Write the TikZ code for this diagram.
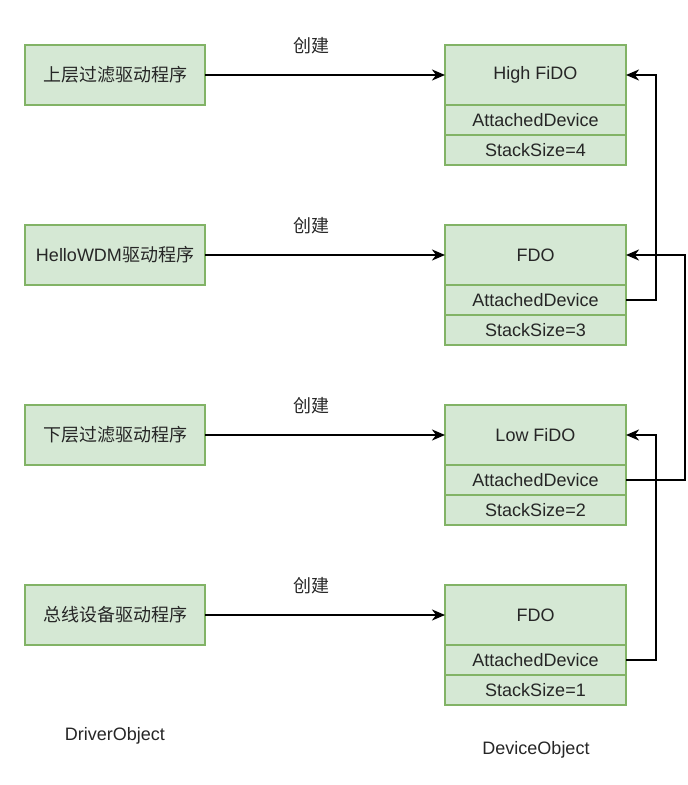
\documentclass[tikz,border=0pt]{standalone}
\usepackage{fontspec}
\setmainfont{Liberation Sans}
\newfontfamily\cjk{Noto Sans CJK SC}
\usetikzlibrary{arrows.meta}
\definecolor{boxfill}{HTML}{D5E8D4}
\definecolor{boxline}{HTML}{82B366}
\begin{document}
\begin{tikzpicture}[x=1pt,y=-1pt,
  txt/.style={font=\fontsize{18}{21}\selectfont, text=black!85},
  box/.style={txt, draw=boxline, fill=boxfill, line width=1.5pt, minimum width=180pt, minimum height=60pt, inner sep=0pt, outer sep=0pt},
  row/.style={box, minimum width=181pt, minimum height=30pt},
  conn/.style={line width=1.8pt, -{Stealth[length=13pt,width=11pt,inset=4pt]}}]
\useasboundingbox (0,0) rectangle (688,785);
% left driver boxes
\node[box, anchor=north west] (L1) at (25,45) {\cjk 上层过滤驱动程序};
\node[box, anchor=north west] (L2) at (25,225) {Hello\-WDM\cjk 驱动程序};
\node[box, anchor=north west] (L3) at (25,405) {\cjk 下层过滤驱动程序};
\node[box, anchor=north west] (L4) at (25,585) {\cjk 总线设备驱动程序};
% right device stacks
\node[box, minimum width=181pt, anchor=north west] (D1) at (445,45) {High FiDO};
\node[row, anchor=north] (A1) at (D1.south) {AttachedDevice};
\node[row, anchor=north] (S1) at (A1.south) {StackSize=4};
\node[box, minimum width=181pt, anchor=north west] (D2) at (445,225) {FDO};
\node[row, anchor=north] (A2) at (D2.south) {AttachedDevice};
\node[row, anchor=north] (S2) at (A2.south) {StackSize=3};
\node[box, minimum width=181pt, anchor=north west] (D3) at (445,405) {Low FiDO};
\node[row, anchor=north] (A3) at (D3.south) {AttachedDevice};
\node[row, anchor=north] (S3) at (A3.south) {StackSize=2};
\node[box, minimum width=181pt, anchor=north west] (D4) at (445,585) {FDO};
\node[row, anchor=north] (A4) at (D4.south) {AttachedDevice};
\node[row, anchor=north] (S4) at (A4.south) {StackSize=1};
% create arrows
\draw[conn] (L1.east) -- (D1.west);
\draw[conn] (L2.east) -- (D2.west);
\draw[conn] (L3.east) -- (D3.west);
\draw[conn] (L4.east) -- (D4.west);
\node[txt] (c1) at (311,46) {\cjk 创建};
\node[txt] (c2) at (311,226) {\cjk 创建};
\node[txt] (c3) at (311,406) {\cjk 创建};
\node[txt] (c4) at (311,586) {\cjk 创建};
% attached device links
\draw[conn] (A2.east) -- ++(30,0) |- (D1.east);
\draw[conn] (A3.east) -- ++(59,0) |- (D2.east);
\draw[conn] (A4.east) -- ++(30,0) |- (D3.east);
% captions
\node[txt] (drv) at (115,736) {DriverObject};
\node[txt] (dev) at (536,750) {DeviceObject};
\end{tikzpicture}
\end{document}
